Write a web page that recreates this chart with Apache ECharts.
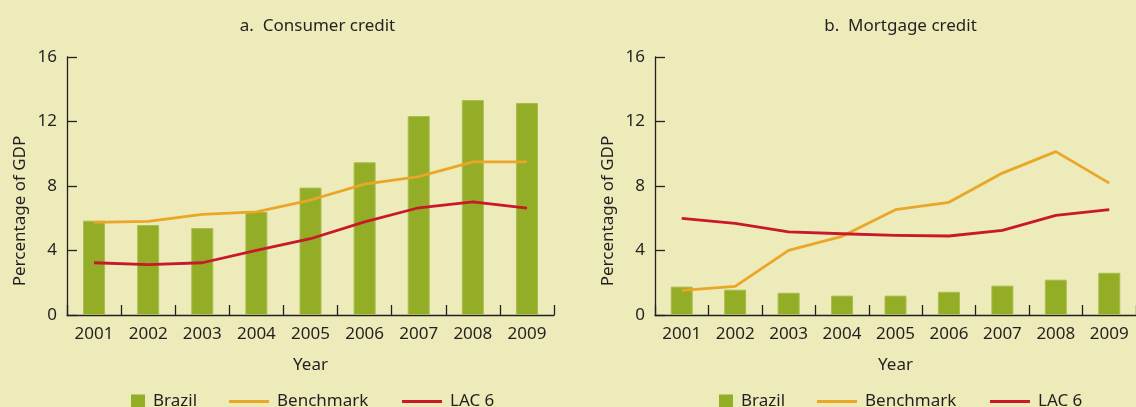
<!DOCTYPE html>
<html>
<head>
<meta charset="utf-8">
<style>
  html, body { margin: 0; padding: 0; background: #EEEBBB; }
  #chart { width: 1136px; height: 407px; }
</style>
<script src="https://cdn.jsdelivr.net/npm/echarts@6/dist/echarts.min.js"></script>
</head>
<body>
<div id="chart"></div>
<script>
// Credit to the private sector, percentage of GDP
const years = ['2001', '2002', '2003', '2004', '2005', '2006', '2007', '2008', '2009'];
const yTicks = [0, 4, 8, 12, 16];

// Panel a: consumer credit
const consumerBrazil    = [5.85, 5.58, 5.39, 6.39, 7.9, 9.47, 12.34, 13.33, 13.15];
const consumerBenchmark = [5.74, 5.81, 6.24, 6.39, 7.13, 8.12, 8.58, 9.49, 9.49];
const consumerLAC6      = [3.24, 3.12, 3.24, 4.01, 4.73, 5.77, 6.65, 7.01, 6.63];

// Panel b: mortgage credit
const mortgageBrazil    = [1.76, 1.57, 1.38, 1.2, 1.2, 1.44, 1.82, 2.19, 2.62];
const mortgageBenchmark = [1.53, 1.78, 4.01, 4.88, 6.53, 6.99, 8.8, 10.13, 8.18];
const mortgageLAC6      = [5.99, 5.68, 5.15, 5.04, 4.94, 4.9, 5.25, 6.18, 6.53];

const FONT = 'Noto Sans';
const INK = '#231F20';
const GREEN = '#93AD27';
const GOLD = '#EAA626';
const RED = '#C8182A';

const panels = [
  { title: 'a.  Consumer credit', left: 67, right: 582, titleX: 312.5, brazil: consumerBrazil, bench: consumerBenchmark, lac: consumerLAC6 },
  { title: 'b.  Mortgage credit', left: 655, right: -6, titleX: 895.5, brazil: mortgageBrazil, bench: mortgageBenchmark, lac: mortgageLAC6 }
];

const grid = [], xAxis = [], yAxis = [], series = [], title = [], legend = [], graphic = [];

panels.forEach((p, i) => {
  grid.push({ left: p.left, right: p.right, top: 57, bottom: 92, containLabel: false });
  const axisLine = { show: true, lineStyle: { color: INK, width: 1.3 } };
  xAxis.push({
    type: 'category', gridIndex: i, data: years, boundaryGap: true,
    axisLine: axisLine,
    axisTick: { show: true, inside: true, length: 10, lineStyle: { color: INK, width: 1.3 } },
    axisLabel: { color: INK, fontFamily: FONT, fontSize: 17, margin: 11 },
    name: 'Year', nameLocation: 'middle', nameGap: 42,
    nameTextStyle: { color: INK, fontFamily: FONT, fontSize: 17 }
  });
  yAxis.push({
    type: 'value', gridIndex: i, min: yTicks[0], max: yTicks[yTicks.length - 1], interval: yTicks[1] - yTicks[0],
    axisLine: axisLine,
    axisTick: { show: true, inside: true, length: 10, lineStyle: { color: INK, width: 1.3 } },
    axisLabel: { color: INK, fontFamily: FONT, fontSize: 17, margin: 10 },
    splitLine: { show: false }
  });
  series.push({
    name: 'Brazil', type: 'bar', xAxisIndex: i, yAxisIndex: i, data: p.brazil, barWidth: 22,
    itemStyle: { color: GREEN, borderColor: '#A9BE4C', borderWidth: 1 }, z: 1
  });
  series.push({
    name: 'Benchmark', type: 'line', xAxisIndex: i, yAxisIndex: i, data: p.bench,
    symbol: 'none', lineStyle: { color: GOLD, width: 2.8, join: 'round' }, itemStyle: { color: GOLD }, z: 3
  });
  series.push({
    name: 'LAC 6', type: 'line', xAxisIndex: i, yAxisIndex: i, data: p.lac,
    symbol: 'none', lineStyle: { color: RED, width: 2.8, join: 'round' }, itemStyle: { color: RED }, z: 4
  });

  title.push({
    text: p.title, left: p.titleX, top: 13, textAlign: 'center',
    textStyle: { color: INK, fontFamily: FONT, fontSize: 17, fontWeight: 'normal' }
  });

  graphic.push({
    type: 'text', x: p.left - 47, y: 211, rotation: Math.PI / 2,
    style: { text: 'Percentage of GDP', fill: INK, font: '17px "Noto Sans"', align: 'center', verticalAlign: 'middle' }
  });

  // legend row: one legend per key so each swatch keeps its own size
  const off = p.left - 67;
  const txt = { color: INK, fontFamily: FONT, fontSize: 17, padding: [0, 0, 0, 3] };
  const base = { top: 393, padding: 0, icon: 'rect', textStyle: txt, selectedMode: false };
  legend.push(Object.assign({ data: ['Brazil'], left: 131 + off, itemWidth: 14, itemHeight: 14, itemStyle: { borderWidth: 0 } }, base));
  legend.push(Object.assign({ data: ['Benchmark'], left: 229 + off, itemWidth: 40, itemHeight: 3 }, base));
  legend.push(Object.assign({ data: ['LAC 6'], left: 402 + off, itemWidth: 40, itemHeight: 3 }, base));
});

const chart = echarts.init(document.getElementById('chart'));
chart.setOption({
  backgroundColor: '#EEEBBB',
  animation: false,
  title, grid, xAxis, yAxis, series, legend, graphic
});
</script>
</body>
</html>
